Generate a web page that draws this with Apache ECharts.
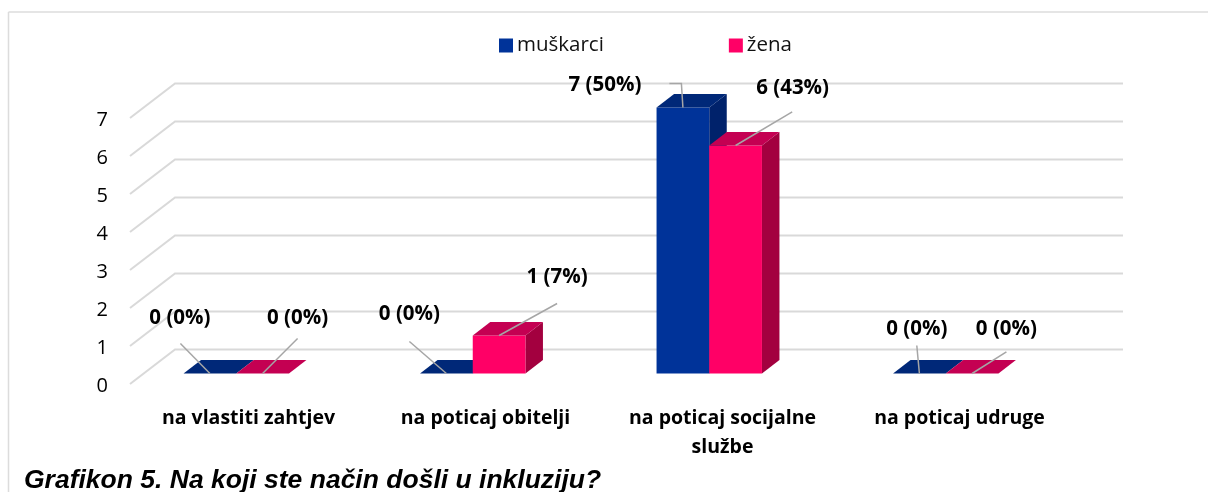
<!DOCTYPE html>
<html>
<head>
<meta charset="utf-8">
<title>Grafikon 5</title>
<style>
  html, body { margin: 0; padding: 0; background: #fff; }
  #chart { width: 1208px; height: 492px; }
</style>
</head>
<body>
<div id="chart"></div>
<script src="https://cdn.jsdelivr.net/npm/echarts@6/dist/echarts.min.js"></script>
<script>
// podaci
const categories = ['na vlastiti zahtjev', 'na poticaj obitelji', 'na poticaj socijalne\nslužbe', 'na poticaj udruge'];
const muskarci = [0, 0, 7, 0];
const muskarciPct = [0, 0, 50, 0];
const zena = [0, 1, 6, 0];
const zenaPct = [0, 7, 43, 0];
const ticks = [0, 1, 2, 3, 4, 5, 6, 7];

const FONT = '"Open Sans"';
const GRID_COLOR = '#d9d9d9';
const LEADER_COLOR = '#a6a6a6';
const BAR_W = 52.7;
const DEPTH_X = 17.5;
const DEPTH_Y = 13.5;

// pomak oznake i linije od sredine gornjeg ruba stupca, po kategoriji
const leadersM = [
  { line: [[-29.5, -30]], label: [-30, -55] },
  { line: [[-37, -32]], label: [-37, -59] },
  { line: [[-1.5, -24], [-13.5, -24]], label: [-78, -22] },
  { line: [[-2.6, -28]], label: [-2.6, -44] }
];
const leadersZ = [
  { line: [[35, -35]], label: [35, -55] },
  { line: [[58, -32]], label: [58, -58] },
  { line: [[56.6, -33.6]], label: [57, -57] },
  { line: [[34.3, -21.7]], label: [34.3, -44] }
];

const chart = echarts.init(document.getElementById('chart'));

// 3D stupac: prednja strana, vrh i bok
const barRenderer = (values, pct, side, colors, leaders) => (params, api) => {
  const i = params.dataIndex;
  const base = api.coord([i, 0]);
  const top = api.coord([i, values[i]]);
  const x0 = base[0] + (side === 0 ? -BAR_W : 0);
  const x1 = x0 + BAR_W;
  const y0 = base[1];
  const y1 = top[1];
  const cx = (x0 + x1) / 2;
  const children = [];
  if (values[i] > 0) {
    children.push({
      type: 'polygon',
      shape: { points: [[x1, y1], [x1 + DEPTH_X, y1 - DEPTH_Y], [x1 + DEPTH_X, y0 - DEPTH_Y], [x1, y0]] },
      style: { fill: colors.side }
    });
    children.push({
      type: 'rect',
      shape: { x: x0, y: y1, width: BAR_W, height: y0 - y1 },
      style: { fill: colors.front }
    });
  }
  children.push({
    type: 'polygon',
    shape: { points: [[x0, y1], [x0 + DEPTH_X, y1 - DEPTH_Y], [x1 + DEPTH_X, y1 - DEPTH_Y], [x1, y1]] },
    style: { fill: colors.top }
  });
  const lead = leaders[i];
  children.push({
    type: 'polyline',
    z2: 20,
    shape: { points: [[cx, y1]].concat(lead.line.map(p => [cx + p[0], y1 + p[1]])) },
    style: { fill: 'none', stroke: LEADER_COLOR, lineWidth: 1.5 }
  });
  children.push({
    type: 'text',
    z2: 30,
    style: {
      x: cx + lead.label[0],
      y: y1 + lead.label[1],
      text: values[i] + ' (' + pct[i] + '%)',
      fill: '#000',
      font: 'bold 20.5px ' + FONT,
      align: 'center',
      verticalAlign: 'middle'
    }
  });
  return { type: 'group', children };
};

// zid: kosa crta od prednjeg ruba pa vodoravno do kraja
const wallRenderer = (params, api) => {
  const v = api.value(1);
  const p = api.coord([0, v]);
  const cs = params.coordSys;
  return {
    type: 'polyline',
    shape: { points: [[cs.x, p[1]], [cs.x + 45, p[1] - 34.5], [cs.x + 45 + cs.width, p[1] - 34.5]] },
    style: { fill: 'none', stroke: GRID_COLOR, lineWidth: 2 }
  };
};

chart.setOption({
  animation: false,
  backgroundColor: '#fff',
  textStyle: { fontFamily: FONT },
  title: {
    text: 'Grafikon 5. Na koji ste način došli u inkluziju?',
    left: 24,
    top: 467,
    padding: 0,
    textStyle: { fontFamily: 'Liberation Sans', fontSize: 26.5, fontWeight: 'bold', fontStyle: 'italic', color: '#000' }
  },
  legend: {
    left: 499,
    top: 35,
    itemWidth: 14,
    itemHeight: 14,
    itemGap: 125,
    icon: 'rect',
    padding: 0,
    data: ['muškarci', 'žena'],
    textStyle: { fontFamily: FONT, fontSize: 20.5, color: '#111', padding: [0, 0, 0, -1] }
  },
  graphic: [
    { type: 'line', shape: { x1: 8.5, y1: 12, x2: 8.5, y2: 492 }, style: { stroke: '#dcdcdc', lineWidth: 1.5 } },
    { type: 'line', shape: { x1: 8.5, y1: 12, x2: 1208, y2: 12 }, style: { stroke: '#dcdcdc', lineWidth: 1.5 } }
  ],
  grid: [
    { left: 130, width: 948, top: 118, height: 266 },
    { left: 118, width: 946, top: 107.5, height: 266 },
    // samo za oznake osi y, malo nize od crta
    { left: 130, width: 948, top: 120.5, height: 266 }
  ],
  xAxis: [
    {
      type: 'category',
      gridIndex: 0,
      data: categories,
      axisLine: { show: false },
      axisTick: { show: false },
      axisLabel: { color: '#000', fontFamily: FONT, fontSize: 19.5, fontWeight: 'bold', margin: 20, lineHeight: 29, interval: 0, hideOverlap: false }
    },
    { type: 'category', gridIndex: 1, data: categories, show: false },
    { type: 'category', gridIndex: 2, data: categories, show: false }
  ],
  yAxis: [
    { type: 'value', gridIndex: 0, min: 0, max: 7, interval: 1, show: false },
    { type: 'value', gridIndex: 1, min: 0, max: 7, interval: 1, show: false },
    {
      type: 'value',
      gridIndex: 2,
      min: 0,
      max: 7,
      interval: 1,
      axisLine: { show: false },
      axisTick: { show: false },
      splitLine: { show: false },
      axisLabel: { color: '#000', fontFamily: FONT, fontSize: 20, margin: 22 }
    }
  ],
  series: [
    {
      name: 'wall',
      type: 'custom',
      xAxisIndex: 0,
      yAxisIndex: 0,
      z: 1,
      silent: true,
      data: ticks.map(t => [0, t]),
      renderItem: wallRenderer
    },
    {
      name: 'muškarci',
      type: 'custom',
      xAxisIndex: 1,
      yAxisIndex: 1,
      z: 2,
      itemStyle: { color: '#003399' },
      data: muskarci.map((v, i) => [i, v]),
      renderItem: barRenderer(muskarci, muskarciPct, 0, { front: '#003399', top: '#002878', side: '#00226b' }, leadersM)
    },
    {
      name: 'žena',
      type: 'custom',
      xAxisIndex: 1,
      yAxisIndex: 1,
      z: 3,
      itemStyle: { color: '#ff0066' },
      data: zena.map((v, i) => [i, v]),
      renderItem: barRenderer(zena, zenaPct, 1, { front: '#ff0066', top: '#c40052', side: '#a3003f' }, leadersZ)
    }
  ]
});
</script>
</body>
</html>
